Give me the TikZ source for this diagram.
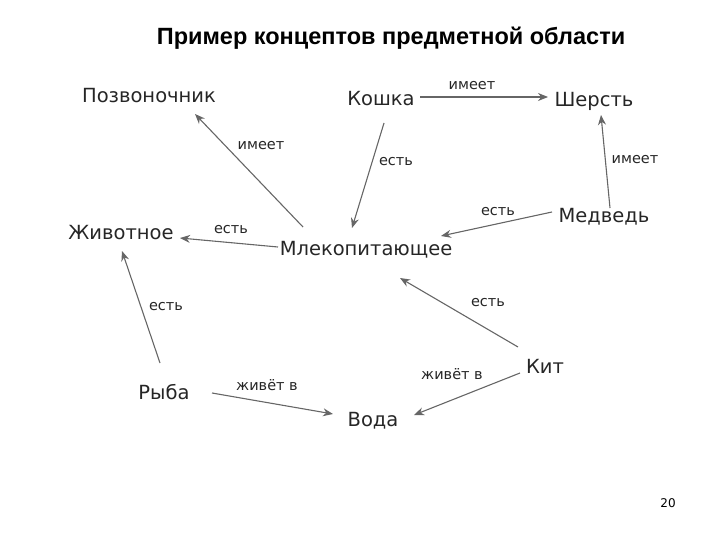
\documentclass[tikz,border=0pt]{standalone}
\usepackage{fontspec}
\setmainfont{DejaVu Sans}
\newfontfamily\titlefont{Liberation Sans}
\usetikzlibrary{arrows.meta}
\begin{document}
\begin{tikzpicture}[x=1pt,y=-1pt,
 concept/.style={font=\fontsize{19.5}{22}\selectfont,text=black!85,inner sep=0pt},
 lab/.style={font=\fontsize{14.5}{16}\selectfont,text=black!85,inner sep=0pt},
 rel/.style={draw=black!60,line width=1.1pt,-{Stealth[length=10pt,width=8pt]}}]
\useasboundingbox (0,0) rectangle (720,540);
\node[font=\titlefont\fontsize{23.5}{26}\selectfont\bfseries] (title) at (391,38) {Пример концептов предметной области};
\node[concept] (pozv) at (149,96) {Позвоночник};
\node[concept] (koshka) at (381,99) {Кошка};
\node[concept] (sherst) at (594,101) {Шерсть};
\node[concept] (zhiv) at (121,233) {Животное};
\node[concept] (mlek) at (366,250) {Млекопитающее};
\node[concept] (medv) at (604,217) {Медведь};
\node[concept] (ryba) at (164,392) {Рыба};
\node[concept] (voda) at (373,421) {Вода};
\node[concept] (kit) at (545,366) {Кит};
\node[font=\fontsize{12}{14}\selectfont] (num) at (668,503) {20};
\begin{scope}
\coordinate (k1) at (420,97); \coordinate (s1) at (548,97);
\coordinate (m1) at (303,227); \coordinate (p1) at (195,114);
\coordinate (k2) at (384,123); \coordinate (m2) at (352,228);
\coordinate (d1) at (610,208); \coordinate (s2) at (601,115);
\coordinate (d2) at (552,212); \coordinate (m3) at (441,236);
\coordinate (m4) at (278,247); \coordinate (z1) at (180,238);
\coordinate (r1) at (160,363); \coordinate (z2) at (122,251);
\coordinate (c1) at (518,347); \coordinate (m5) at (400,278);
\coordinate (r2) at (212,393); \coordinate (v1) at (333,414);
\coordinate (c2) at (520,373); \coordinate (v2) at (414,415);
\end{scope}
\draw[rel] (k1) -- (s1);
\draw[rel] (m1) -- (p1);
\draw[rel] (k2) -- (m2);
\draw[rel] (d1) -- (s2);
\draw[rel] (d2) -- (m3);
\draw[rel] (m4) -- (z1);
\draw[rel] (r1) -- (z2);
\draw[rel] (c1) -- (m5);
\draw[rel] (r2) -- (v1);
\draw[rel] (c2) -- (v2);
\node[lab] at (472,86) {имеет};
\node[lab] at (261,146) {имеет};
\node[lab] at (396,162) {есть};
\node[lab] at (635,160) {имеет};
\node[lab] at (498,212) {есть};
\node[lab] at (231,230) {есть};
\node[lab] at (166,307) {есть};
\node[lab] at (488,303) {есть};
\node[lab] at (267,385) {живёт в};
\node[lab] at (452,374) {живёт в};
\end{tikzpicture}
\end{document}
